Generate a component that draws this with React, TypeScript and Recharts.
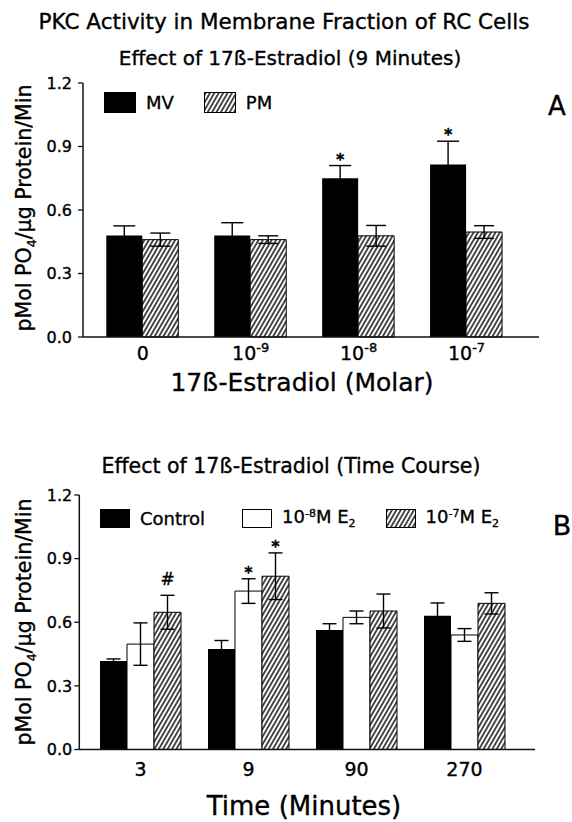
import React from 'react';
import { BarChart, Bar, XAxis, YAxis, ErrorBar, LabelList, Legend } from 'recharts';

const FONT = '"DejaVu Sans", "Liberation Sans", Arial, sans-serif';
const INK = '#111';

// panel A: 9 minute exposure, by dose
const doseBase = ['0', '10', '10', '10'];
const doseExp = ['', '-9', '-8', '-7'];
const mvA = [0.48, 0.48, 0.75, 0.815];
const mvErrA = [0.045, 0.06, 0.06, 0.11];
const pmA = [0.46, 0.46, 0.478, 0.496];
const pmErrA = [0.031, 0.018, 0.049, 0.03];
const mvMarkA = ['', '', '*', '*'];

// panel B: time course
const times = ['3', '9', '90', '270'];
const ctrlB = [0.417, 0.474, 0.563, 0.631];
const ctrlErrB = [0.01, 0.04, 0.03, 0.06];
const e8B = [0.497, 0.747, 0.623, 0.54];
const e8ErrB = [0.1, 0.058, 0.03, 0.03];
const e7B = [0.647, 0.817, 0.653, 0.689];
const e7ErrB = [0.08, 0.11, 0.08, 0.05];
const e8MarkB = ['', '*', '', ''];
const e7MarkB = ['#', '*', '', ''];

const yTicks = [0, 0.3, 0.6, 0.9, 1.2];

const dataA = doseBase.map((b, i) => ({
  name: b + doseExp[i],
  mv: mvA[i],
  mvErr: mvErrA[i],
  pm: pmA[i],
  pmErr: pmErrA[i],
}));

const dataB = times.map((t, i) => ({
  name: t,
  ctrl: ctrlB[i],
  ctrlErr: ctrlErrB[i],
  e8: e8B[i],
  e8Err: e8ErrB[i],
  e7: e7B[i],
  e7Err: e7ErrB[i],
}));

// a thin outline makes the text look closer to the scanned print
const heavy = { stroke: '#000', strokeWidth: 0.35 };

function Hatch({ id }: { id: string }) {
  return (
    <pattern id={id} patternUnits="userSpaceOnUse" width={3.8} height={3.8} patternTransform="rotate(30)">
      <rect width={3.8} height={3.8} fill="#fff" />
      <line x1={1.9} y1={0} x2={1.9} y2={3.8} stroke="#000" strokeWidth={1.4} />
    </pattern>
  );
}

function DoseTick({ x, y, payload }: any) {
  const i = payload.index;
  return (
    <text x={x} y={y + 15} textAnchor="middle" fontFamily={FONT} fontSize={19} fill="#000" {...heavy}>
      {doseBase[i]}
      {doseExp[i] ? (
        <tspan dy={-8} fontSize={13}>
          {doseExp[i]}
        </tspan>
      ) : null}
    </text>
  );
}

function TimeTick({ x, y, payload }: any) {
  return (
    <text x={x} y={y + 18} textAnchor="middle" fontFamily={FONT} fontSize={19} fill="#000" {...heavy}>
      {payload.value}
    </text>
  );
}

// significance marks sit just above the error bar
const markLabel = (errs: number[], marks: string[]) => (props: any) => {
  const { x, y, width, height, value, index } = props;
  const m = marks[index];
  if (!m || !value) return null;
  const errTop = y - (height * errs[index]) / value;
  return (
    <text
      x={x + width / 2}
      y={errTop - (m === '#' ? 10 : 1)}
      textAnchor="middle"
      fontFamily={FONT}
      fontSize={m === '#' ? 17 : 16}
      fontWeight={m === '#' ? 'normal' : 'bold'}
      fill="#000"
      {...heavy}
    >
      {m}
    </text>
  );
};

type LegendItem = { label: React.ReactNode; kind: 'solid' | 'open' | 'hatch' };

function Swatch({ kind, w, h, id }: { kind: string; w: number; h: number; id: string }) {
  return (
    <svg width={w} height={h} style={{ display: 'block' }}>
      <defs>
        <Hatch id={id} />
      </defs>
      <rect
        x={0.5}
        y={0.5}
        width={w - 1}
        height={h - 1}
        fill={kind === 'solid' ? '#000' : kind === 'hatch' ? `url(#${id})` : '#fff'}
        stroke="#000"
        strokeWidth={1}
      />
    </svg>
  );
}

function makeLegend(items: LegendItem[], w: number, h: number, gaps: number[], prefix: string) {
  return () => (
    <div
      style={{
        display: 'flex',
        alignItems: 'center',
        fontFamily: FONT,
        fontSize: 18,
        color: '#000',
        whiteSpace: 'nowrap',
        WebkitTextStroke: '0.35px #000',
      }}
    >
      {items.map((it, i) => (
        <div key={i} style={{ display: 'flex', alignItems: 'center', marginRight: gaps[i] }}>
          <Swatch kind={it.kind} w={w} h={h} id={`${prefix}${i}`} />
          <span style={{ marginLeft: 10 }}>{it.label}</span>
        </div>
      ))}
    </div>
  );
}

const e2 = (exp: string) => (
  <>
    10<sup style={{ fontSize: 11, verticalAlign: 6 }}>{exp}</sup>M E<sub style={{ fontSize: 11, verticalAlign: -4 }}>2</sub>
  </>
);

const legendA = makeLegend(
  [
    { label: 'MV', kind: 'solid' },
    { label: 'PM', kind: 'hatch' },
  ],
  32,
  21,
  [30, 0],
  'lgA'
);

const legendB = makeLegend(
  [
    { label: 'Control', kind: 'solid' },
    { label: e2('-8'), kind: 'open' },
    { label: e2('-7'), kind: 'hatch' },
  ],
  30,
  19,
  [37, 30, 0],
  'lgB'
);

const axisLine = { stroke: INK, strokeWidth: 1.5 };
const yTickStyle = { fontFamily: FONT, fontSize: 16, fill: '#000', ...heavy };

function YLabel({ x, y }: { x: number; y: number }) {
  return (
    <text
      transform={`translate(${x},${y}) rotate(-90)`}
      textAnchor="middle"
      fontFamily={FONT}
      fontSize={20.5}
      fill="#000"
      {...heavy}
    >
      pMol PO<tspan dy={5} fontSize={13}>4</tspan>
      <tspan dy={-5}>/µg Protein/Min</tspan>
    </text>
  );
}

export default function App() {
  return (
    <div style={{ position: 'absolute', left: 0, top: 0, width: 572, height: 822, background: '#fff' }}>
      <div style={{ position: 'absolute', left: 0, top: 0 }}>
        <BarChart
          width={572}
          height={400}
          data={dataA}
          margin={{ top: 83, right: 33, bottom: 33, left: 43 }}
          barCategoryGap={17.5}
          barGap={0}
        >
          <defs>
            <Hatch id="hatchA" />
          </defs>
          <XAxis
            dataKey="name"
            height={30}
            padding={{ left: 5.8, right: 18.5 }}
            tickLine={false}
            axisLine={axisLine}
            tick={<DoseTick />}
            interval={0}
          />
          <XAxis xAxisId="t" dataKey="name" orientation="top" height={0} tick={false} tickLine={false} axisLine={axisLine} />
          <YAxis
            width={40}
            domain={[0, 1.2]}
            ticks={yTicks}
            tickFormatter={(v: number) => v.toFixed(1)}
            tickSize={5}
            tickMargin={6}
            tickLine={{ stroke: INK, strokeWidth: 1.3 }}
            axisLine={axisLine}
            tick={yTickStyle}
          />
          <YAxis yAxisId="r" orientation="right" width={0} domain={[0, 1.2]} tick={false} tickLine={false} axisLine={axisLine} />
          <Legend layout="horizontal" verticalAlign="middle" align="center" wrapperStyle={{ top: 92, left: 104, width: 300 }} content={legendA} />
          <Bar dataKey="mv" fill="#000" isAnimationActive={false}>
            <ErrorBar dataKey="mvErr" width={11} stroke="#000" strokeWidth={1.4} />
            <LabelList dataKey="mv" content={markLabel(mvErrA, mvMarkA)} />
          </Bar>
          <Bar dataKey="pm" fill="url(#hatchA)" stroke="#000" strokeWidth={1} isAnimationActive={false}>
            <ErrorBar dataKey="pmErr" width={10} stroke="#000" strokeWidth={1.4} />
          </Bar>
        </BarChart>
      </div>

      <div style={{ position: 'absolute', left: 0, top: 420 }}>
        <BarChart
          width={572}
          height={402}
          data={dataB}
          margin={{ top: 75, right: 37, bottom: 42.5, left: 39.3 }}
          barCategoryGap={13.5}
          barGap={0}
        >
          <defs>
            <Hatch id="hatchB" />
          </defs>
          <XAxis
            dataKey="name"
            height={30}
            padding={{ left: 7.2, right: 16.5 }}
            tickLine={false}
            axisLine={axisLine}
            tick={<TimeTick />}
            interval={0}
          />
          <XAxis xAxisId="t" dataKey="name" orientation="top" height={0} tick={false} tickLine={false} axisLine={axisLine} />
          <YAxis
            width={40}
            domain={[0, 1.2]}
            ticks={yTicks}
            tickFormatter={(v: number) => v.toFixed(1)}
            tickSize={5}
            tickMargin={2}
            tickLine={{ stroke: INK, strokeWidth: 1.3 }}
            axisLine={axisLine}
            tick={yTickStyle}
          />
          <YAxis yAxisId="r" orientation="right" width={0} domain={[0, 1.2]} tick={false} tickLine={false} axisLine={axisLine} />
          <Legend layout="horizontal" verticalAlign="middle" align="center" wrapperStyle={{ top: 86, left: 100, width: 440 }} content={legendB} />
          <Bar dataKey="ctrl" fill="#000" isAnimationActive={false}>
            <ErrorBar dataKey="ctrlErr" width={7} stroke="#000" strokeWidth={1.4} />
          </Bar>
          <Bar dataKey="e8" fill="#fff" stroke="#000" strokeWidth={1} isAnimationActive={false}>
            <ErrorBar dataKey="e8Err" width={7} stroke="#000" strokeWidth={1.4} />
            <LabelList dataKey="e8" content={markLabel(e8ErrB, e8MarkB)} />
          </Bar>
          <Bar dataKey="e7" fill="url(#hatchB)" stroke="#000" strokeWidth={1} isAnimationActive={false}>
            <ErrorBar dataKey="e7Err" width={7} stroke="#000" strokeWidth={1.4} />
            <LabelList dataKey="e7" content={markLabel(e7ErrB, e7MarkB)} />
          </Bar>
        </BarChart>
      </div>

      <svg width={572} height={822} style={{ position: 'absolute', left: 0, top: 0, pointerEvents: 'none' }}>
        <g fontFamily={FONT} fill="#000" {...heavy}>
          <text x={284} y={29} textAnchor="middle" fontSize={21.5}>
            PKC Activity in Membrane Fraction of RC Cells
          </text>
          <text x={290} y={65} textAnchor="middle" fontSize={20}>
            Effect of 17ß-Estradiol (9 Minutes)
          </text>
          <text x={557} y={115} textAnchor="middle" fontSize={26}>
            A
          </text>
          <text x={302} y={391} textAnchor="middle" fontSize={25}>
            17ß-Estradiol (Molar)
          </text>
          <text x={291} y={473} textAnchor="middle" fontSize={20.5}>
            Effect of 17ß-Estradiol (Time Course)
          </text>
          <text x={562} y={535} textAnchor="middle" fontSize={27}>
            B
          </text>
          <text x={304} y={815} textAnchor="middle" fontSize={26}>
            Time (Minutes)
          </text>
        </g>
        <YLabel x={31} y={208} />
        <YLabel x={31} y={622} />
      </svg>
    </div>
  );
}
